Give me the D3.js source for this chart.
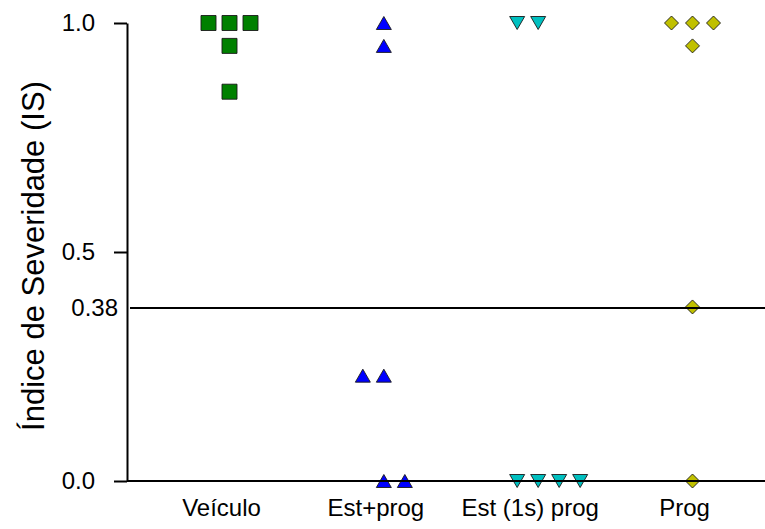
<!DOCTYPE html>
<html>
<head>
<meta charset="utf-8">
<script src="https://cdn.jsdelivr.net/npm/d3@7"></script>
<style>
  html, body { margin: 0; padding: 0; background: #fff; }
  svg { display: block; font-family: Arial, "Liberation Sans", Helvetica, sans-serif; }
</style>
</head>
<body>
<svg id="chart" width="765" height="529"></svg>
<script>
// Groups on the x axis
const categories = ["Veículo", "Est+prog", "Est (1s) prog", "Prog"];

// Severity index per animal, one array per group
const veiculoIS  = [1, 1, 1, 0.95, 0.85];
const estProgIS  = [1, 0.95, 0.23, 0.23, 0, 0];
const est1sIS    = [1, 1, 0, 0, 0, 0];
const progIS     = [1, 1, 1, 0.95, 0.38, 0];

// Column index of each dot inside its group (side-by-side stacking of tied values)
const veiculoCol = [-1, 0, 1, 0, 0];
const estProgCol = [0, 0, -1, 0, 0, 1];
const est1sCol   = [-1, 0, -1, 0, 1, 2];
const progCol    = [-1, 0, 1, 0, 0, 0];

// Y axis ticks and the reference cut-off
const yTicks = [0, 0.5, 1];
const cutoff = 0.38;

const series = [
  { cat: categories[0], values: veiculoIS, cols: veiculoCol, shape: "square",   fill: "#008000" },
  { cat: categories[1], values: estProgIS, cols: estProgCol, shape: "triUp",    fill: "#0000ff" },
  { cat: categories[2], values: est1sIS,   cols: est1sCol,   shape: "triDown",  fill: "#00c0c0" },
  { cat: categories[3], values: progIS,    cols: progCol,    shape: "diamond",  fill: "#c0c000" }
];

const svg = d3.select("#chart");
const axisX = 127, plotRight = 765;

const y = d3.scaleLinear().domain([0, 1]).range([481, 23]);
const x = d3.scalePoint().domain(categories).range([221, 684]);
const dotShift = 8.5, colStep = 21;

const shapes = {
  square:  "M-7.5,-7.5H7.5V7.5H-7.5Z",
  triUp:   "M0,-6.5L7.5,6.5H-7.5Z",
  triDown: "M0,6.5L7.5,-6.5H-7.5Z",
  diamond: "M0,-7L7,0L0,7L-7,0Z"
};

// Dots
series.forEach(s => {
  svg.append("g").selectAll("path")
    .data(s.values.map((v, i) => ({ v, c: s.cols[i] })))
    .join("path")
    .attr("d", shapes[s.shape])
    .attr("transform", d => `translate(${x(s.cat) + dotShift + d.c * colStep},${y(d.v)})`)
    .attr("fill", s.fill)
    .attr("stroke", "#1a1a1a")
    .attr("stroke-width", 0.9);
});

// Cut-off line
svg.append("line")
  .attr("x1", axisX + 3).attr("x2", plotRight)
  .attr("y1", y(cutoff) + 1).attr("y2", y(cutoff) + 1)
  .attr("stroke", "#000").attr("stroke-width", 2);

svg.append("text")
  .attr("x", 118).attr("y", y(cutoff) + 1)
  .attr("dy", "0.35em")
  .attr("text-anchor", "end")
  .attr("font-size", 24)
  .text(cutoff.toString());

// Y axis
const yAxis = d3.axisLeft(y).tickValues(yTicks).tickFormat(d3.format(".1f"))
  .tickSize(13).tickSizeOuter(0).tickPadding(19);
const gy = svg.append("g").attr("transform", `translate(${axisX},0)`).call(yAxis);
gy.selectAll("path, line").attr("stroke", "#000").attr("stroke-width", 2);
gy.selectAll("text").attr("font-size", 24).attr("fill", "#000").attr("font-family", null);

// X axis
const gx = svg.append("g").attr("transform", `translate(0,${y(0)})`)
  .call(d3.axisBottom(x).tickSize(0).tickPadding(18));
gx.select(".domain").attr("d", `M${axisX},0H${plotRight}`).attr("stroke", "#000").attr("stroke-width", 2);
gx.selectAll("text").attr("font-size", 24).attr("fill", "#000").attr("font-family", null);

// Y axis title
svg.append("text")
  .attr("transform", `translate(44,256) rotate(-90)`)
  .attr("text-anchor", "middle")
  .attr("font-size", 31)
  .text("Índice de Severidade (IS)");
</script>
</body>
</html>
